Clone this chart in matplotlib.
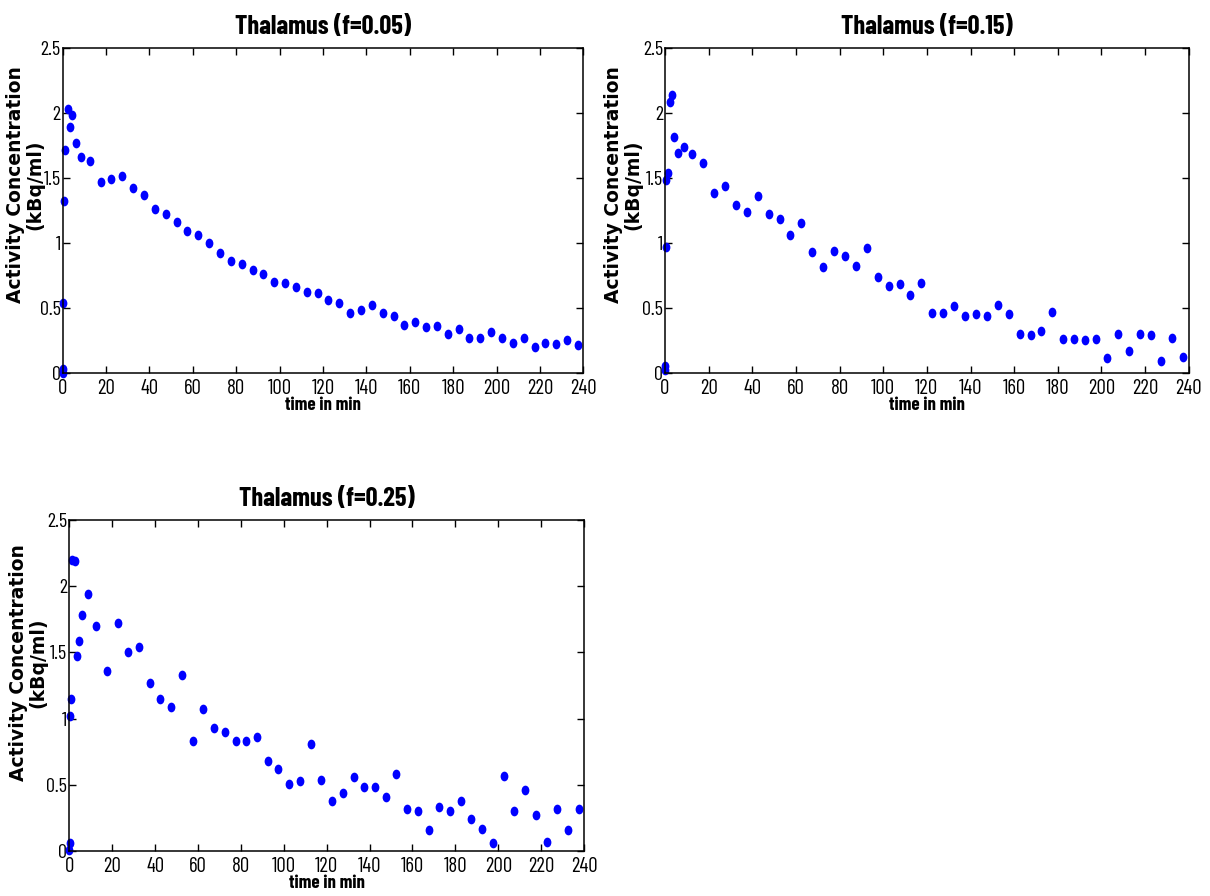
import matplotlib
matplotlib.use("Agg")
import matplotlib.pyplot as plt
from matplotlib.markers import MarkerStyle
from matplotlib.transforms import Affine2D

# frame mid-times (min), same for the three simulations
t_min = [0.05, 0.15, 0.3, 0.6, 1.2, 2.5, 3.4, 4.3, 6.0, 8.5, 12.5,
         17.5, 22.5, 27.5, 32.5, 37.5, 42.5, 47.5, 52.5, 57.5, 62.5,
         67.5, 72.5, 77.5, 82.5, 87.5, 92.5, 97.5, 102.5, 107.5, 112.5,
         117.5, 122.5, 127.5, 132.5, 137.5, 142.5, 147.5, 152.5, 157.5, 162.5,
         167.5, 172.5, 177.5, 182.5, 187.5, 192.5, 197.5, 202.5, 207.5, 212.5,
         217.5, 222.5, 227.5, 232.5, 237.5]

# activity concentration (kBq/ml)
act_f005 = [0.00, 0.03, 0.54, 1.32, 1.71, 2.03, 1.89, 1.98, 1.77, 1.66, 1.63,
            1.47, 1.49, 1.51, 1.42, 1.37, 1.26, 1.22, 1.16, 1.09, 1.06,
            1.00, 0.92, 0.86, 0.84, 0.79, 0.76, 0.70, 0.69, 0.66, 0.62,
            0.61, 0.56, 0.54, 0.46, 0.48, 0.52, 0.46, 0.44, 0.37, 0.39,
            0.35, 0.36, 0.30, 0.34, 0.27, 0.27, 0.31, 0.27, 0.23, 0.27,
            0.20, 0.23, 0.22, 0.25, 0.21]

act_f015 = [0.02, 0.05, 0.97, 1.48, 1.54, 2.08, 2.14, 1.81, 1.69, 1.74, 1.68,
            1.61, 1.38, 1.44, 1.29, 1.24, 1.36, 1.22, 1.18, 1.06, 1.15,
            0.93, 0.81, 0.94, 0.90, 0.82, 0.96, 0.74, 0.67, 0.68, 0.60,
            0.69, 0.46, 0.46, 0.51, 0.44, 0.45, 0.44, 0.52, 0.45, 0.30,
            0.29, 0.32, 0.47, 0.26, 0.26, 0.25, 0.26, 0.11, 0.30, 0.17,
            0.30, 0.29, 0.09, 0.27, 0.12]

act_f025 = [0.01, 0.06, 1.02, 1.15, 2.20, 2.19, 1.47, 1.59, 1.78, 1.94, 1.70,
            1.36, 1.72, 1.50, 1.54, 1.27, 1.15, 1.09, 1.33, 0.83, 1.07,
            0.93, 0.90, 0.83, 0.83, 0.86, 0.68, 0.62, 0.51, 0.53, 0.81,
            0.54, 0.375, 0.44, 0.56, 0.48, 0.48, 0.41, 0.58, 0.32, 0.30,
            0.16, 0.33, 0.30, 0.375, 0.24, 0.17, 0.06, 0.57, 0.30, 0.46,
            0.27, 0.07, 0.32, 0.16, 0.32]

titles = ["Thalamus (f=0.05)", "Thalamus (f=0.15)", "Thalamus (f=0.25)"]
x_ticks = [0, 20, 40, 60, 80, 100, 120, 140, 160, 180, 200, 220, 240]
y_ticks = [0, 0.5, 1, 1.5, 2, 2.5]
y_ticklabels = ["0", "0.5", "1", "1.5", "2", "2.5"]

# narrow grotesque, close to the MATLAB Helvetica-Narrow look
NARROW = ["Barlow Condensed", "DejaVu Sans"]
WIDE = ["DejaVu Sans"]

fig = plt.figure(figsize=(12.1, 8.96), dpi=100)

# axes rectangles in figure fractions + ylabel position (axes fractions)
panels = [
    ([0.0518, 0.584, 0.4303, 0.3627], (-0.072, 0.578), act_f005),
    ([0.5496, 0.584, 0.4328, 0.3627], (-0.080, 0.578), act_f015),
    ([0.0573, 0.0502, 0.4254, 0.3694], (-0.080, 0.569), act_f025),
]

dot = MarkerStyle("o", transform=Affine2D().scale(0.8, 1.0))

for (rect, lab_pos, values), title in zip(panels, titles):
    ax = fig.add_axes(rect)
    ax.plot(t_min, values, linestyle="none", marker=dot, markersize=7.0,
            color="#0000ff", markeredgewidth=0, clip_on=False)
    ax.set_xlim(0, 240)
    ax.set_ylim(0, 2.5)
    ax.set_xticks(x_ticks)
    ax.set_xticklabels([str(v) for v in x_ticks], family=NARROW, fontsize=15)
    ax.set_yticks(y_ticks)
    ax.set_yticklabels(y_ticklabels, family=NARROW, fontsize=14.5)
    ax.tick_params(direction="in", top=True, right=True, length=5, width=1)
    ax.tick_params(axis="x", pad=4.5)
    ax.tick_params(axis="y", pad=1.5)
    for sp in ax.spines.values():
        sp.set_linewidth(1.1)
    ax.set_title(title, family=NARROW, fontsize=19, fontweight="bold", pad=10)
    ax.set_xlabel("time in min", family=NARROW, fontsize=13.5,
                  fontweight="bold", labelpad=-1)
    ax.text(lab_pos[0], lab_pos[1], "Activity Concentration\n(kBq/ml)",
            transform=ax.transAxes, rotation=90, ha="center", va="center",
            fontsize=13.5, fontweight="bold", family=WIDE, linespacing=1.0)

fig.savefig("out.png", dpi=100)
